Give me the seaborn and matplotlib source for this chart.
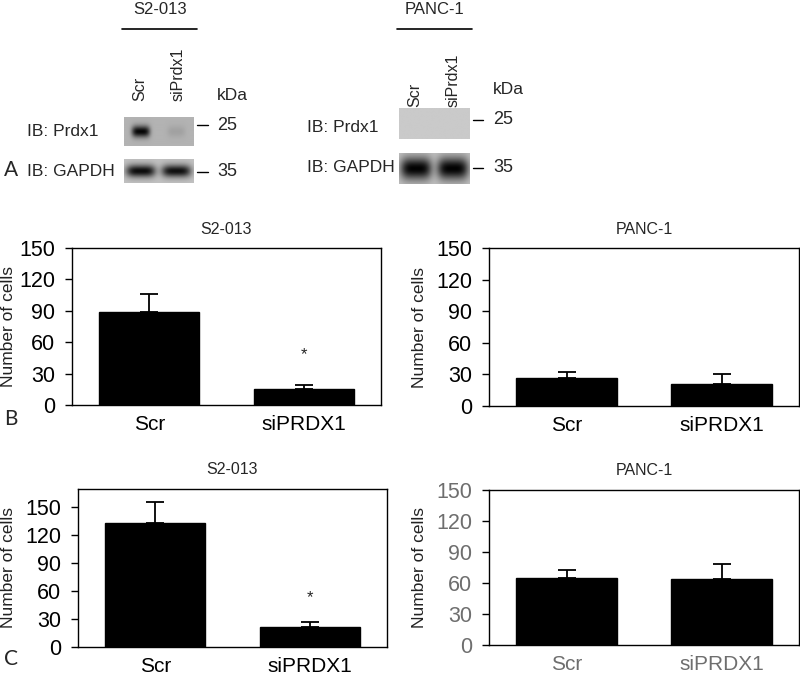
import numpy as np
import matplotlib
matplotlib.use("Agg")
import matplotlib.pyplot as plt
import seaborn as sns
from matplotlib.lines import Line2D

# ---------------- data ----------------
categories = ["Scr", "siPRDX1"]
b_s2_mean = [89, 15]
b_s2_err = [17, 4]
b_panc_mean = [27, 21]
b_panc_err = [5, 9]
c_s2_mean = [133, 21]
c_s2_err = [22, 6]
c_panc_mean = [65, 64]
c_panc_err = [8, 14]
y_ticks = [0, 30, 60, 90, 120, 150]
star_b = 48
star_c = 53

lanes = ["Scr", "siPrdx1"]
s2_prdx1_band = [1.0, 0.10]
s2_gapdh_band = [0.97, 0.95]
panc_prdx1_band = [0.0, 0.0]
panc_gapdh_band = [1.0, 1.0]

# ---------------- style ----------------
sns.set_theme(style="white")
plt.rcParams["font.family"] = ["Liberation Sans", "DejaVu Sans"]

W, H = 800, 676
fig = plt.figure(figsize=(W / 100, H / 100), dpi=100)


def px_axes(x0, y0, x1, y1):
    return fig.add_axes([x0 / W, 1 - y1 / H, (x1 - x0) / W, (y1 - y0) / H])


def ftext(x, y, s, **kw):
    fig.text(x / W, 1 - y / H, s, transform=fig.transFigure, **kw)


def fline(x0, x1, y, lw=1.2):
    fig.add_artist(Line2D([x0 / W, x1 / W], [1 - y / H, 1 - y / H],
                          transform=fig.transFigure, color="black", lw=lw))


# ---------------- panel A : blots ----------------
def draw_blot(box, bands, bg, hw, hh, lane_x=(0.24, 0.75), dark=0.97):
    ax = px_axes(*box)
    nx, ny = 140, 60
    xs = np.linspace(0, 1, nx)
    ys = np.linspace(0, 1, ny)
    X, Y = np.meshgrid(xs, ys)
    inten = np.zeros_like(X)
    for a, xc in zip(bands, lane_x):
        inten += a * np.exp(-(np.abs(X - xc) / hw) ** 4) * np.exp(-((Y - 0.5) / hh) ** 2)
    inten = np.clip(inten, 0, 1)
    img = bg * (1 - dark * inten)
    ax.imshow(img, cmap="gray", vmin=0, vmax=1, extent=(0, 1, 0, 1),
              aspect="auto", interpolation="bilinear")
    ax.set_xticks([])
    ax.set_yticks([])
    for s in ax.spines.values():
        s.set_visible(False)
    return ax


def blot_group(title, tx, line_x0, line_x1, lane_xs, lane_bottom, kda_x, kda_y,
               lab_x, rows, dash_x0, dash_x1, num_x):
    ftext(tx, 10, title, ha="center", va="center", fontsize=12)
    fline(line_x0, line_x1, 29)
    for name, lx in zip(lanes, lane_xs):
        ftext(lx, lane_bottom, name, rotation=90, ha="center", va="bottom", fontsize=11.5)
    ftext(kda_x, kda_y, "kDa", ha="left", va="center", fontsize=12.5)
    for label, ly, marker_y, kd in rows:
        ftext(lab_x, ly, label, ha="left", va="center", fontsize=12.5)
        fline(dash_x0, dash_x1, marker_y, lw=1.0)
        ftext(num_x, marker_y, kd, ha="left", va="center", fontsize=13)


draw_blot((124, 117, 194, 146), s2_prdx1_band, 0.70, 0.13, 0.20)
draw_blot((124, 159, 194, 183), s2_gapdh_band, 0.76, 0.21, 0.26)
blot_group("S2-013", 160, 122, 197, [140, 178], 101, 217, 95, 27,
           [("IB: Prdx1", 131, 125, "25"), ("IB: GAPDH", 172, 172, "35")],
           197, 208, 217)

draw_blot((399, 108, 469, 139), panc_prdx1_band, 0.79, 0.2, 0.2)
draw_blot((399, 153, 469, 184), panc_gapdh_band, 0.76, 0.22, 0.36, lane_x=(0.24, 0.76), dark=0.99)
blot_group("PANC-1", 434, 397, 472, [415, 453], 107, 493, 90, 307,
           [("IB: Prdx1", 127, 120, "25"), ("IB: GAPDH", 168, 168, "35")],
           473, 483, 493)

ftext(4, 170, "A", ha="left", va="center", fontsize=15, family=["Lato", "DejaVu Sans"])
ftext(4, 419, "B", ha="left", va="center", fontsize=15, family=["Lato", "DejaVu Sans"])
ftext(4, 659, "C", ha="left", va="center", fontsize=15, family=["Lato", "DejaVu Sans"])


# ---------------- bar panels ----------------
def bar_panel(box, means, errs, title, ylim, star=None, tick_color="black",
              label_x_px=15, title_pad=10):
    ax = px_axes(*box)
    sns.barplot(x=categories, y=means, color="black", saturation=1, width=0.65,
                edgecolor="black", errorbar=None, ax=ax)
    ax.errorbar(range(len(means)), means, yerr=[np.zeros(len(errs)), errs],
                fmt="none", ecolor="black", elinewidth=1.3, capsize=6.5,
                capthick=1.3, zorder=5)
    ax.set_ylim(*ylim)
    ax.set_xlim(-0.5, len(means) - 0.5)
    ax.set_yticks(y_ticks)
    ax.set_yticklabels([str(t) for t in y_ticks])
    for s in ax.spines.values():
        s.set_visible(True)
        s.set_color("black")
        s.set_linewidth(1.0)
    ax.tick_params(axis="y", direction="out", length=5, width=1, pad=7,
                   labelsize=15.5, colors="black", labelcolor=tick_color, left=True)
    ax.tick_params(axis="x", length=0, pad=7, labelsize=15, labelcolor=tick_color)
    ax.set_xlabel("")
    ax.set_ylabel("Number of cells", fontsize=12.5, color="#222222")
    x0 = box[0]
    width = box[2] - box[0]
    ax.yaxis.set_label_coords((label_x_px - x0) / width, 0.5)
    ax.set_title(title, fontsize=11.5, pad=title_pad)
    if star is not None:
        ax.text(1, star, "*", ha="center", va="center", fontsize=12)
    return ax


bar_panel((72, 248, 381, 405), b_s2_mean, b_s2_err, "S2-013", (0, 150), star=star_b,
          label_x_px=16)
bar_panel((489, 248, 799, 406), b_panc_mean, b_panc_err, "PANC-1", (0, 150),
          label_x_px=427)
bar_panel((78, 489, 387, 647), c_s2_mean, c_s2_err, "S2-013", (0, 169), star=star_c,
          label_x_px=16, title_pad=11)
bar_panel((489, 490, 799, 645), c_panc_mean, c_panc_err, "PANC-1", (0, 150),
          tick_color="#6e6e6e", label_x_px=427, title_pad=11)

fig.savefig("out.png", dpi=100)
